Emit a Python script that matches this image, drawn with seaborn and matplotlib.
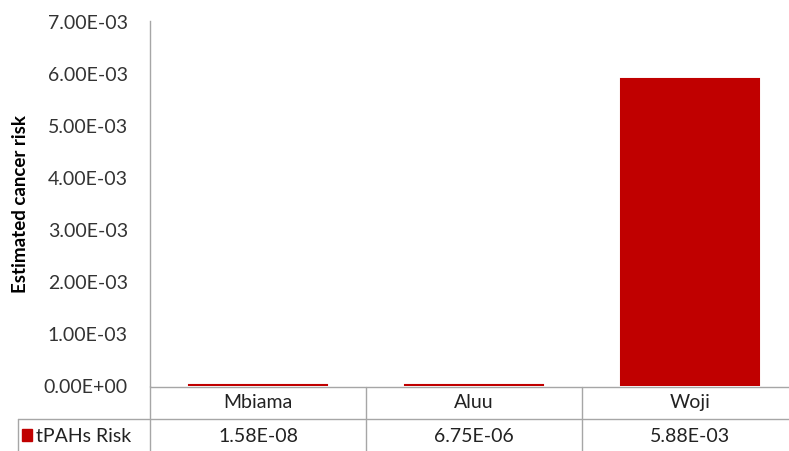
import matplotlib
matplotlib.use("Agg")
import matplotlib.pyplot as plt
import seaborn as sns
import pandas as pd
from matplotlib.lines import Line2D
from matplotlib.patches import Rectangle
from matplotlib.ticker import FuncFormatter

categories = ["Mbiama", "Aluu", "Woji"]
risk = [1.58e-08, 6.75e-06, 5.88e-03]
series_name = "tPAHs Risk"
y_label = "Estimated cancer risk"

sns.set_theme(style="white")
plt.rcParams['font.family'] = ['Lato', 'DejaVu Sans']

W, H = 789, 452
fig = plt.figure(figsize=(W / 100, H / 100), dpi=100)

def fx(px):
    return px / W

def fy(py):
    return 1 - py / H

ax = fig.add_axes([fx(150), fy(386.5), (648) / W, (386.5 - 22) / H])
ax.set_facecolor("none")
df = pd.DataFrame({"cat": categories, "val": risk})
sns.barplot(data=df, x="cat", y="val", color="#C00000", width=0.64,
            saturation=1, ax=ax, edgecolor="#C00000", linewidth=1.5)
ax.set_ylim(0, 7e-3)
ax.set_yticks([i * 1e-3 for i in range(8)])
ax.yaxis.set_major_formatter(FuncFormatter(lambda v, p: f"{v:.2E}"))
ax.tick_params(axis='y', length=0, pad=16, labelsize=14, labelcolor="#333333")
ax.set_xticks([])
ax.set_xlabel("")
ax.set_ylabel("")
for s in ["top", "right", "bottom"]:
    ax.spines[s].set_visible(False)
ax.spines["left"].set_color("#A6A6A6")
ax.spines["left"].set_linewidth(1.0)
ax.set_xlim(-0.5, 2.5)

fig.text(fx(21), fy(204), y_label, rotation=90, ha="center", va="center",
         fontsize=13.5, fontweight="bold", color="black")

grid = "#A6A6A6"
def hline(x0, x1, y, z=2):
    fig.add_artist(Line2D([fx(x0), fx(x1)], [fy(y), fy(y)], color=grid, lw=1.0,
                          transform=fig.transFigure, zorder=z))
def vline(x, y0, y1):
    fig.add_artist(Line2D([fx(x), fx(x)], [fy(y0), fy(y1)], color=grid, lw=1.0,
                          transform=fig.transFigure))

hline(150, 789, 388, z=-1)
hline(18, 789, 420)
vline(150, 387, 452)
vline(18, 420, 452)
col_w = 216
for i in range(1, 3):
    vline(150 + i * col_w, 388, 452)

for i, (c, v) in enumerate(zip(categories, risk)):
    cx = 150 + col_w * (i + 0.5)
    fig.text(fx(cx), fy(403), c, ha="center", va="center", fontsize=14, color="#222222")
    fig.text(fx(cx), fy(437), f"{v:.2E}", ha="center", va="center", fontsize=14, color="#222222")

fig.add_artist(Rectangle((fx(22), fy(442)), 10 / W, 12 / H, color="#C00000",
                         transform=fig.transFigure))
fig.text(fx(36), fy(437), series_name, ha="left", va="center", fontsize=14, color="#222222")

fig.savefig("out.png", dpi=100)
